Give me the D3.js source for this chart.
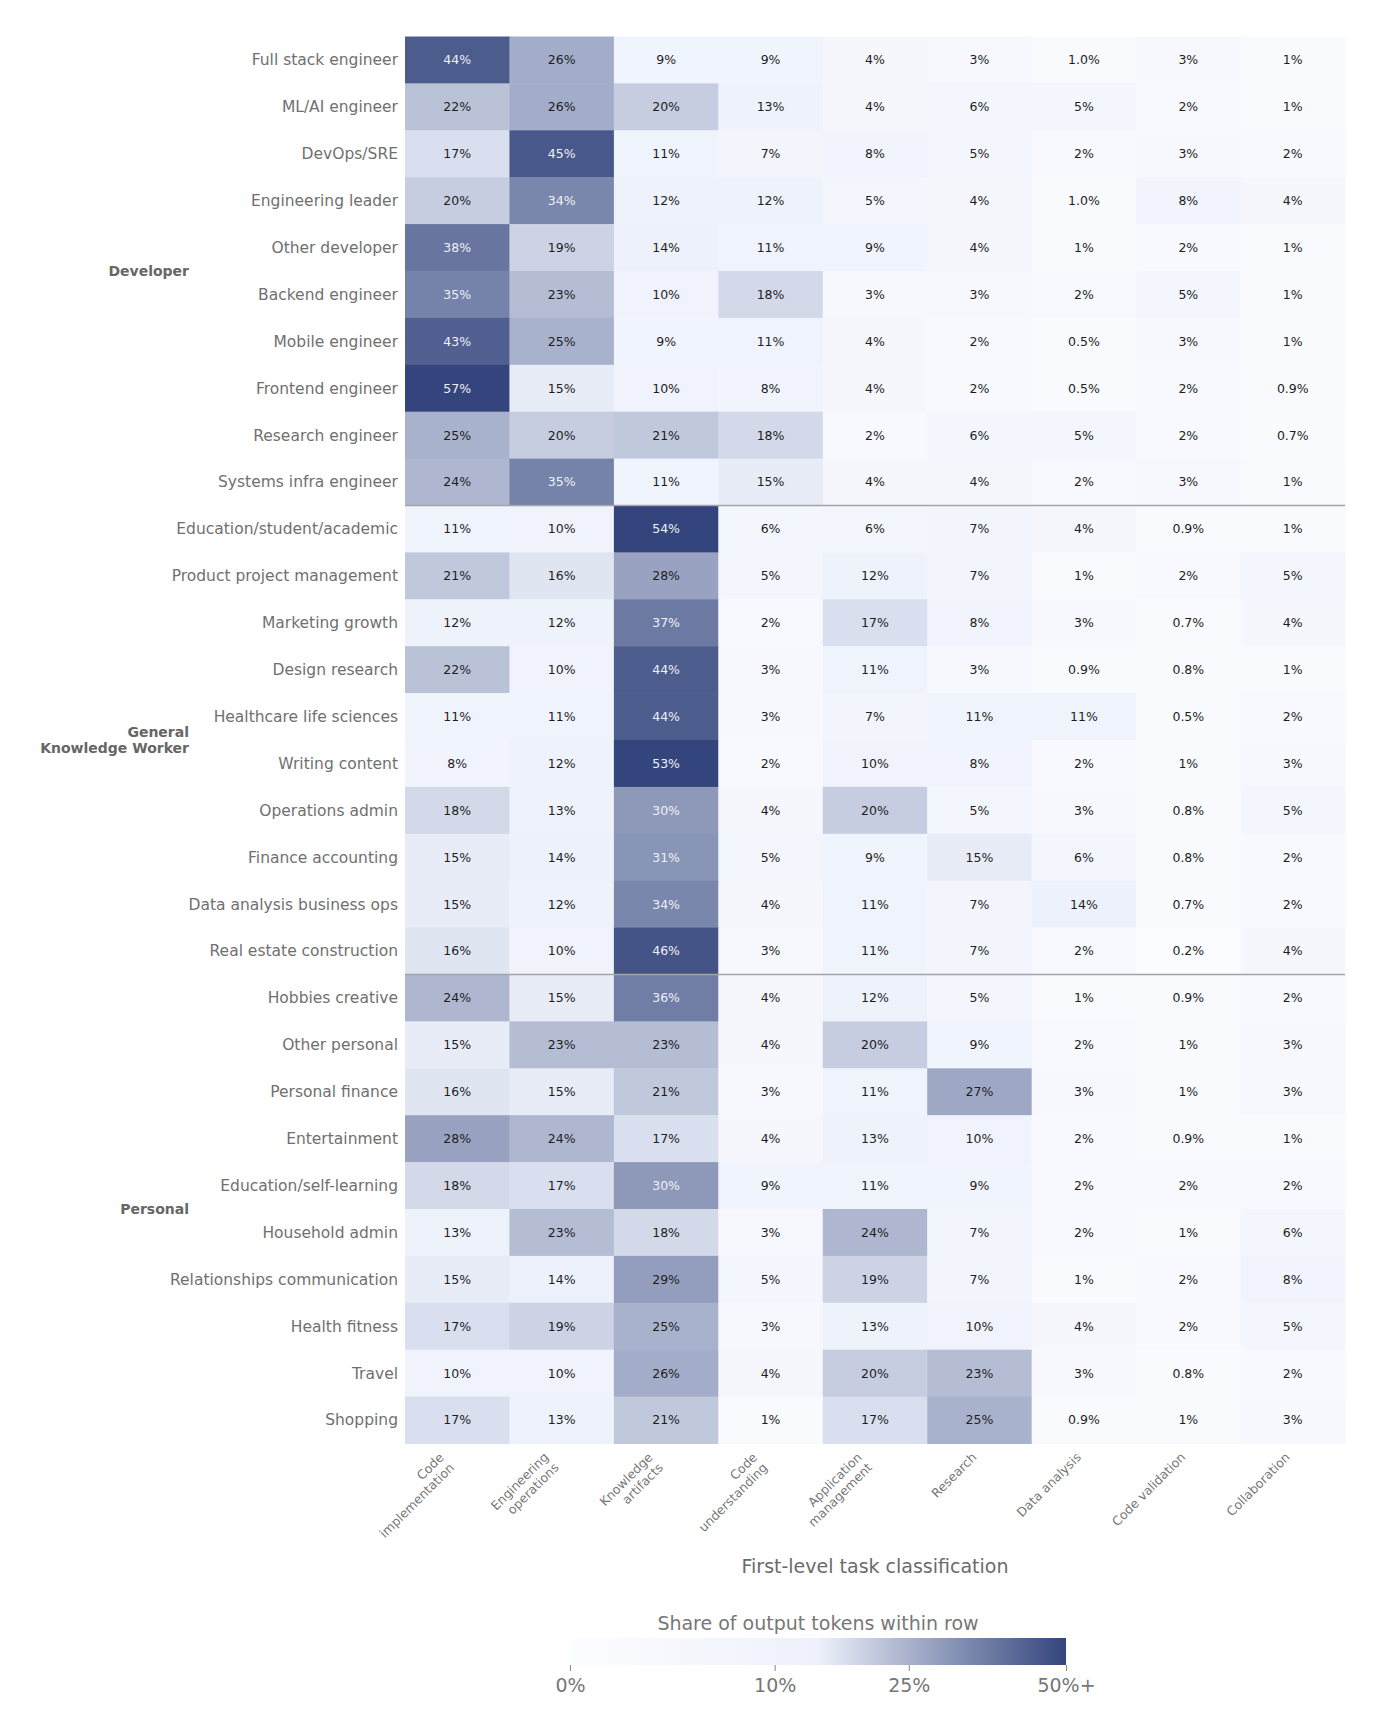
<!DOCTYPE html>
<html>
<head>
<meta charset="utf-8">
<script src="https://cdn.jsdelivr.net/npm/d3@7"></script>
<style>
  body { margin: 0; background: #fff; }
  svg { display: block; font-family: "DejaVu Sans", sans-serif; }
</style>
</head>
<body>
<div id="chart"></div>
<script>
(function(){

    const width = 1380;
    const height = 1721;

    // columns of the heatmap
    const tasks = ['Code implementation', 'Engineering operations', 'Knowledge artifacts',
        'Code understanding', 'Application management', 'Research', 'Data analysis',
        'Code validation', 'Collaboration']
    const taskLabels = [['Code', 'implementation'], ['Engineering', 'operations'], ['Knowledge', 'artifacts'],
        ['Code', 'understanding'], ['Application', 'management'], ['Research'], ['Data analysis'],
        ['Code validation'], ['Collaboration']]

    const groups = [['Developer'], ['General', 'Knowledge Worker'], ['Personal']]

    const developerRows = ['Full stack engineer', 'ML/AI engineer', 'DevOps/SRE', 'Engineering leader',
        'Other developer', 'Backend engineer', 'Mobile engineer', 'Frontend engineer',
        'Research engineer', 'Systems infra engineer']
    const developerValues = [
        [44, 26, 9, 9, 4, 3, 0.996, 3, 1],
        [22, 26, 20, 13, 4, 6, 5, 2, 1],
        [17, 45, 11, 7, 8, 5, 2, 3, 2],
        [20, 34, 12, 12, 5, 4, 0.996, 8, 4],
        [38, 19, 14, 11, 9, 4, 1, 2, 1],
        [35, 23, 10, 18, 3, 3, 2, 5, 1],
        [43, 25, 9, 11, 4, 2, 0.5, 3, 1],
        [57, 15, 10, 8, 4, 2, 0.5, 2, 0.9],
        [25, 20, 21, 18, 2, 6, 5, 2, 0.7],
        [24, 35, 11, 15, 4, 4, 2, 3, 1]
    ]

    const knowledgeRows = ['Education/student/academic', 'Product project management', 'Marketing growth',
        'Design research', 'Healthcare life sciences', 'Writing content', 'Operations admin',
        'Finance accounting', 'Data analysis business ops', 'Real estate construction']
    const knowledgeValues = [
        [11, 10, 54, 6, 6, 7, 4, 0.9, 1],
        [21, 16, 28, 5, 12, 7, 1, 2, 5],
        [12, 12, 37, 2, 17, 8, 3, 0.7, 4],
        [22, 10, 44, 3, 11, 3, 0.9, 0.8, 1],
        [11, 11, 44, 3, 7, 11, 11, 0.5, 2],
        [8, 12, 53, 2, 10, 8, 2, 1, 3],
        [18, 13, 30, 4, 20, 5, 3, 0.8, 5],
        [15, 14, 31, 5, 9, 15, 6, 0.8, 2],
        [15, 12, 34, 4, 11, 7, 14, 0.7, 2],
        [16, 10, 46, 3, 11, 7, 2, 0.2, 4]
    ]

    const personalRows = ['Hobbies creative', 'Other personal', 'Personal finance', 'Entertainment',
        'Education/self-learning', 'Household admin', 'Relationships communication',
        'Health fitness', 'Travel', 'Shopping']
    const personalValues = [
        [24, 15, 36, 4, 12, 5, 1, 0.9, 2],
        [15, 23, 23, 4, 20, 9, 2, 1, 3],
        [16, 15, 21, 3, 11, 27, 3, 1, 3],
        [28, 24, 17, 4, 13, 10, 2, 0.9, 1],
        [18, 17, 30, 9, 11, 9, 2, 2, 2],
        [13, 23, 18, 3, 24, 7, 2, 1, 6],
        [15, 14, 29, 5, 19, 7, 1, 2, 8],
        [17, 19, 25, 3, 13, 10, 4, 2, 5],
        [10, 10, 26, 4, 20, 23, 3, 0.8, 2],
        [17, 13, 21, 1, 17, 25, 0.9, 1, 3]
    ]

    const colorbarTicks = [0, 10, 25, 50]

    const blocks = [
        {rows: developerRows, values: developerValues},
        {rows: knowledgeRows, values: knowledgeValues},
        {rows: personalRows, values: personalValues}
    ]

    // flatten into cells
    const rowNames = []
    const cells = []
    blocks.forEach(function(b, gi){
        b.rows.forEach(function(r, ri){
            rowNames.push(r)
            b.values[ri].forEach(function(v, ci){
                cells.push({row: r, task: tasks[ci], value: v, group: gi})
            })
        })
    })

    const grid = {left: 405, right: 1345, top: 36.5, bottom: 1443.5}

    const x = d3.scaleBand().domain(tasks).range([grid.left, grid.right])
    const y = d3.scaleBand().domain(rowNames).range([grid.top, grid.bottom])

    // power norm, clipped at 50%
    const norm = d3.scalePow().exponent(0.55).domain([0, 50]).range([0, 1]).clamp(true)
    const cmap = d3.scaleLinear()
        .domain([0, 0.5, 1])
        .range(['#fcfdff', '#edf1fb', '#33457c'])
        .interpolate(d3.interpolateRgb)
    const color = function(v){ return cmap(norm(v)) }

    const fmt = function(v){
        return (v < 1 ? v.toFixed(1) : v.toFixed(0)) + '%'
    }

    const svg = d3.select('#chart')
        .append('svg')
        .attr('width', width)
        .attr('height', height)

    // cells
    svg.append('g')
        .selectAll('rect')
        .data(cells)
        .enter().append('rect')
        .attr('x', function(d){ return x(d.task) })
        .attr('y', function(d){ return y(d.row) })
        .attr('width', x.bandwidth() + 0.5)
        .attr('height', y.bandwidth() + 0.5)
        .attr('fill', function(d){ return color(d.value) })

    svg.append('g')
        .selectAll('text')
        .data(cells)
        .enter().append('text')
        .attr('x', function(d){ return x(d.task) + x.bandwidth() / 2 })
        .attr('y', function(d){ return y(d.row) + y.bandwidth() / 2 })
        .attr('dy', '0.35em')
        .attr('text-anchor', 'middle')
        .attr('font-size', 12.5)
        .attr('fill', function(d){ return d.value >= 29.5 ? '#eef0f6' : '#1e1e1e' })
        .text(function(d){ return fmt(d.value) })

    // group separators
    const seps = [knowledgeRows[0], personalRows[0]]
    svg.append('g')
        .selectAll('line')
        .data(seps)
        .enter().append('line')
        .attr('x1', grid.left)
        .attr('x2', grid.right)
        .attr('y1', function(d){ return y(d) })
        .attr('y2', function(d){ return y(d) })
        .attr('stroke', '#a3a3a8')
        .attr('stroke-width', 1.3)

    // row labels
    svg.append('g')
        .selectAll('text')
        .data(rowNames)
        .enter().append('text')
        .attr('x', grid.left - 7)
        .attr('y', function(d){ return y(d) + y.bandwidth() / 2 })
        .attr('dy', '0.35em')
        .attr('text-anchor', 'end')
        .attr('font-size', 15.5)
        .attr('fill', '#707070')
        .text(function(d){ return d })

    // group labels
    const groupText = svg.append('g')
        .selectAll('text')
        .data(groups)
        .enter().append('text')
        .attr('text-anchor', 'end')
        .attr('font-size', 14)
        .attr('font-weight', 'bold')
        .attr('fill', '#666')
        .attr('transform', function(d, i){
            const rows = blocks[i].rows
            const mid = (y(rows[0]) + y(rows[rows.length - 1]) + y.bandwidth()) / 2
            return 'translate(189,' + mid + ')'
        })
    groupText.selectAll('tspan')
        .data(function(d){ return d.map(function(t, k){ return {t: t, k: k, n: d.length} }) })
        .enter().append('tspan')
        .attr('x', 0)
        .attr('y', function(d){ return (d.k - (d.n - 1) / 2) * 16 })
        .attr('dy', '0.35em')
        .text(function(d){ return d.t })

    // x tick labels, rotated 45 deg, top-right corner at column centre
    const tickTop = grid.bottom + 6
    const xt = svg.append('g')
        .selectAll('g')
        .data(tasks)
        .enter().append('g')
        .attr('transform', function(d){ return 'translate(' + (x(d) + x.bandwidth() / 2) + ',' + tickTop + ') rotate(-45)' })
    xt.append('text')
        .attr('text-anchor', 'end')
        .attr('font-size', 12.5)
        .attr('fill', '#777')
        .selectAll('tspan')
        .data(function(d, i){
            const lines = taskLabels[i]
            return lines.map(function(t, k){ return {t: t, k: k, n: lines.length} })
        })
        .enter().append('tspan')
        .attr('x', 0)
        .attr('y', function(d){ return (d.k - (d.n - 1)) * 14.5 })
        .text(function(d){ return d.t })

    xt.each(function(d){
        const box = this.getBoundingClientRect()
        const cx = x(d) + x.bandwidth() / 2
        const dx = cx - box.right
        const dy = tickTop - box.top
        d3.select(this).attr('transform', 'translate(' + (cx + dx) + ',' + (tickTop + dy) + ') rotate(-45)')
    })

    // axis title
    svg.append('text')
        .attr('x', (grid.left + grid.right) / 2)
        .attr('y', 1566)
        .attr('dy', '0.35em')
        .attr('text-anchor', 'middle')
        .attr('font-size', 19)
        .attr('fill', '#6b6b6b')
        .text('First-level task classification')

    // colorbar
    const cb = {left: 570, right: 1066, top: 1638, height: 27}
    const cbScale = d3.scalePow().exponent(0.55).domain([0, 50]).range([cb.left, cb.right])

    const grad = svg.append('defs').append('linearGradient')
        .attr('id', 'cbgrad')
        .attr('x1', '0%').attr('x2', '100%')
        .attr('y1', '0%').attr('y2', '0%')
    grad.selectAll('stop')
        .data(d3.range(0, 1.0001, 0.05))
        .enter().append('stop')
        .attr('offset', function(d){ return (d * 100) + '%' })
        .attr('stop-color', function(d){ return cmap(d) })

    svg.append('rect')
        .attr('x', cb.left)
        .attr('y', cb.top)
        .attr('width', cb.right - cb.left)
        .attr('height', cb.height)
        .attr('fill', 'url(#cbgrad)')

    svg.append('text')
        .attr('x', (cb.left + cb.right) / 2)
        .attr('y', 1623)
        .attr('dy', '0.35em')
        .attr('text-anchor', 'middle')
        .attr('font-size', 19)
        .attr('fill', '#777')
        .text('Share of output tokens within row')

    const cbAxis = svg.append('g')
        .attr('transform', 'translate(0,' + (cb.top + cb.height) + ')')
        .call(d3.axisBottom(cbScale)
            .tickValues(colorbarTicks)
            .tickSize(6)
            .tickSizeOuter(0)
            .tickFormat(function(d){ return d === 50 ? '50%+' : d + '%' }))
    cbAxis.select('.domain').remove()
    cbAxis.selectAll('line').attr('stroke', '#888')
    cbAxis.selectAll('text')
        .attr('font-size', 19)
        .attr('font-family', '"DejaVu Sans", sans-serif')
        .attr('fill', '#777')
        .attr('dy', '0.95em')

}());
</script>
</body>
</html>
